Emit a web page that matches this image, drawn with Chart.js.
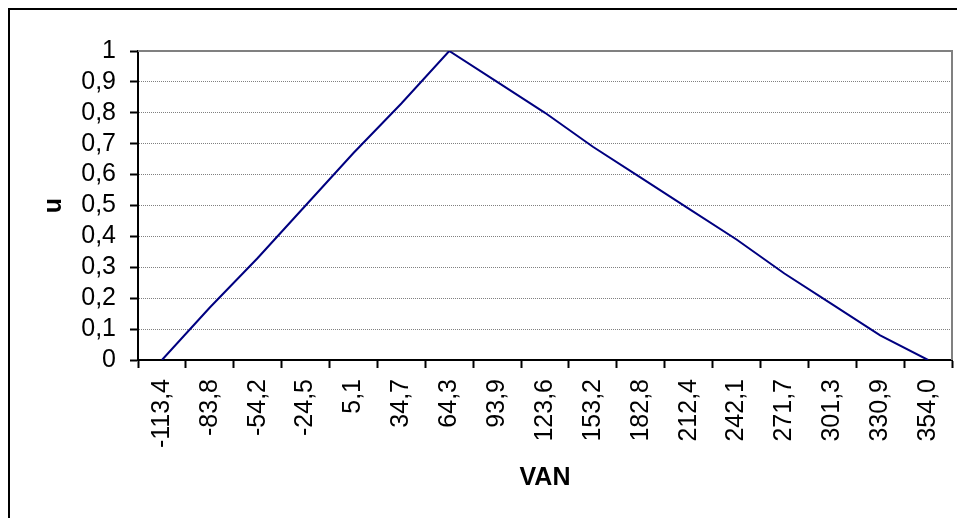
<!DOCTYPE html>
<html>
<head>
<meta charset="utf-8">
<title>u - VAN</title>
<script src="https://cdn.jsdelivr.net/npm/chart.js@4.4.1/dist/chart.umd.min.js"></script>
<style>
    html, body { margin: 0; padding: 0; background: #fff; }
    canvas { display: block; }
</style>
</head>
<body>
<canvas id="vanChart" width="957" height="518"></canvas>
<script>
const vanLabels = ['-113,4', '-83,8', '-54,2', '-24,5', '5,1', '34,7', '64,3', '93,9', '123,6',
    '153,2', '182,8', '212,4', '242,1', '271,7', '301,3', '330,9', '354,0'];
const uValues = [0, 0.17, 0.33, 0.5, 0.67, 0.83, 1, 0.9, 0.8, 0.69, 0.59, 0.49, 0.39, 0.28, 0.18, 0.08, 0];
const yMin = 0;
const yMax = 1;
const yStep = 0.1;

const FONT = 'Liberation Sans, Arial, sans-serif';

// frame round the whole chart + grey border on the plot area (top/right)
const framePlugin = {
    id: 'frame',
    beforeDraw(chart) {
        const ctx = chart.ctx;
        ctx.save();
        ctx.fillStyle = '#fff';
        ctx.fillRect(0, 0, chart.width, chart.height);
        ctx.strokeStyle = '#000';
        ctx.lineWidth = 2;
        ctx.strokeRect(9, 9, chart.width + 20, chart.height + 20);
        ctx.restore();
    },
    beforeDatasetsDraw(chart) {
        const { ctx, chartArea } = chart;
        ctx.save();
        ctx.strokeStyle = '#808080';
        ctx.lineWidth = 2;
        ctx.beginPath();
        ctx.moveTo(chartArea.left, chartArea.top);
        ctx.lineTo(chartArea.right, chartArea.top);
        ctx.lineTo(chartArea.right, chartArea.bottom);
        ctx.stroke();
        ctx.restore();
    }
};

function formatTick(value) {
    const v = Math.round(value * 10) / 10;
    return String(v).replace('.', ',');
}

const ctx = document.getElementById('vanChart').getContext('2d');
new Chart(ctx, {
    type: 'line',
    data: {
        labels: vanLabels,
        datasets: [{
            label: 'u',
            data: uValues,
            borderColor: '#000080',
            borderWidth: 2,
            pointRadius: 0,
            tension: 0,
            fill: false
        }]
    },
    options: {
        responsive: false,
        animation: false,
        layout: {
            padding: { left: 38, top: 51, right: 5, bottom: 0 }
        },
        plugins: {
            legend: { display: false },
            tooltip: { enabled: false }
        },
        scales: {
            x: {
                type: 'category',
                offset: true,
                afterFit(scale) {
                    scale.height = 158;
                    scale.paddingLeft = 0;
                    scale.paddingRight = 0;
                },
                grid: {
                    offset: true,
                    drawOnChartArea: false,
                    drawTicks: true,
                    tickLength: 8,
                    tickColor: '#000',
                    tickWidth: 2
                },
                border: { color: '#000', width: 2 },
                ticks: {
                    autoSkip: false,
                    minRotation: 90,
                    maxRotation: 90,
                    padding: 11,
                    color: '#000',
                    font: { family: FONT, size: 25 }
                },
                title: {
                    display: true,
                    text: 'VAN',
                    color: '#000',
                    font: { family: FONT, size: 25, weight: 'bold' },
                    padding: { top: 0, bottom: 25 }
                }
            },
            y: {
                min: yMin,
                max: yMax,
                afterFit(scale) { scale.width = 100; },
                grid: {
                    color: '#808080',
                    lineWidth: 1,
                    drawTicks: true,
                    tickLength: 8,
                    tickColor: '#000',
                    tickWidth: 2
                },
                border: { color: '#000', width: 2, dash: [1, 1] },
                ticks: {
                    stepSize: yStep,
                    autoSkip: false,
                    padding: 14,
                    color: '#000',
                    font: { family: FONT, size: 25 },
                    callback: formatTick
                },
                title: {
                    display: true,
                    text: 'u',
                    color: '#000',
                    font: { family: FONT, size: 25, weight: 'bold' },
                    padding: { top: 1, bottom: 0 }
                }
            }
        }
    },
    plugins: [framePlugin]
});
</script>
</body>
</html>
